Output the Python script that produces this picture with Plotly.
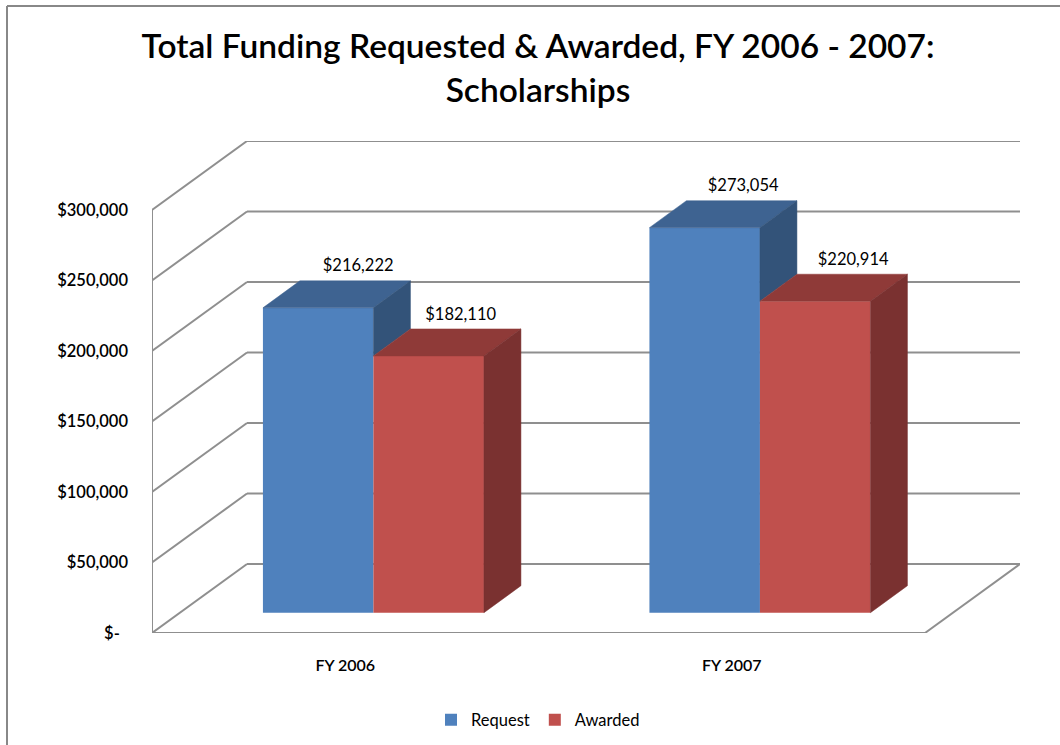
import plotly.graph_objects as go

# ---- data ----
categories = ["FY 2006", "FY 2007"]
request = [216222, 273054]
awarded = [182110, 220914]
y_ticks = [0, 50000, 100000, 150000, 200000, 250000, 300000]
y_labels = ["$-\u00a0\u00a0", "$50,000", "$100,000", "$150,000", "$200,000", "$250,000", "$300,000"]
series_names = ["Request", "Awarded"]

# ---- projection (axis units) ----
PX_X = 386.5          # pixels per category
PX_Y = 70.5 / 50000   # pixels per dollar
L, T, R, B = 152, 141, 1020, 633
W, H = 1060, 745
x_max = (R - L) / PX_X
y_max = (B - T) / PX_Y
WALL_DX, WALL_DY = 95 / PX_X, 69 / PX_Y
BAR_DX, BAR_DY = 37 / PX_X, 27 / PX_Y
BASE = 20.3 / PX_Y
BAR_W = 110.5 / PX_X
GROUP = [0.287 + BAR_W, 1.287 + BAR_W]   # x of the boundary between the two bars

GRID = "#8f8f8f"
BLUE, BLUE_TOP, BLUE_SIDE = "#4F81BD", "#3E6391", "#335379"
RED, RED_TOP, RED_SIDE = "#C0504D", "#8F3A38", "#7A3130"
FONT = "Lato, Carlito, Calibri, sans-serif"
TXT = "#000000"

fig = go.Figure()

# front faces
blue_x = [g - BAR_W / 2 for g in GROUP]
red_x = [g + BAR_W / 2 for g in GROUP]
fig.add_bar(x=blue_x, y=request, base=BASE, width=BAR_W, name=series_names[0],
            marker=dict(color=BLUE, line_width=0), hoverinfo="skip")
fig.add_bar(x=red_x, y=awarded, base=BASE, width=BAR_W, name=series_names[1],
            marker=dict(color=RED, line_width=0), hoverinfo="skip")


def poly(xs, ys, color):
    fig.add_scatter(x=xs, y=ys, mode="lines", fill="toself", fillcolor=color,
                    line=dict(color=color, width=0.5), showlegend=False, hoverinfo="skip")


for i in range(len(categories)):
    b_l, b_r = blue_x[i] - BAR_W / 2, blue_x[i] + BAR_W / 2
    r_l, r_r = red_x[i] - BAR_W / 2, red_x[i] + BAR_W / 2
    b_t = BASE + request[i]
    r_t = BASE + awarded[i]
    # blue top, visible blue side (above red top)
    poly([b_l, b_r, b_r + BAR_DX, b_l + BAR_DX, b_l], [b_t, b_t, b_t + BAR_DY, b_t + BAR_DY, b_t], BLUE_TOP)
    poly([b_r, b_r + BAR_DX, b_r + BAR_DX, b_r, b_r], [b_t, b_t + BAR_DY, r_t + BAR_DY, r_t, b_t], BLUE_SIDE)
    # red top and side
    poly([r_l, r_r, r_r + BAR_DX, r_l + BAR_DX, r_l], [r_t, r_t, r_t + BAR_DY, r_t + BAR_DY, r_t], RED_TOP)
    poly([r_r, r_r + BAR_DX, r_r + BAR_DX, r_r, r_r], [r_t, r_t + BAR_DY, BASE + BAR_DY, BASE, r_t], RED_SIDE)

# data labels
label_dx = [40 / PX_X, 38.5 / PX_X, 32 / PX_X, 38 / PX_X]
label_dy = 40.5 / PX_Y
fig.add_scatter(
    x=[x + d for x, d in zip(blue_x + red_x, label_dx)],
    y=[BASE + v + label_dy for v in request + awarded],
    text=[f"${v:,}" for v in request + awarded],
    mode="text", textposition="middle center",
    textfont=dict(family=FONT, size=16.5, color=TXT),
    showlegend=False, hoverinfo="skip",
)

# walls and floor, behind the bars
shapes = []


def seg(x0, y0, x1, y1):
    shapes.append(dict(type="line", xref="x", yref="y", x0=x0, y0=y0, x1=x1, y1=y1,
                       layer="below", line=dict(color=GRID, width=2)))


for t in y_ticks:
    seg(0, t, WALL_DX, t + WALL_DY)
    seg(WALL_DX, t + WALL_DY, x_max, t + WALL_DY)
seg(0, 0, 0, y_ticks[-1])
seg(0, 0, x_max - WALL_DX, 0)
seg(x_max - WALL_DX, 0, x_max, WALL_DY)

# outer chart-area frame (left and top edges only)
frame = dict(type="line", xref="paper", yref="paper", layer="below", line=dict(color="#888888", width=2))
px = lambda v: (v - L) / (R - L)
py = lambda v: (B - v) / (B - T)
shapes.append({**frame, "x0": px(7), "x1": px(7), "y0": py(6), "y1": py(745)})
shapes.append({**frame, "x0": px(7), "x1": px(1060), "y0": py(6), "y1": py(6)})

fig.update_layout(
    width=W, height=H,
    margin=dict(l=L, r=W - R, t=T, b=H - B, pad=0, autoexpand=False),
    paper_bgcolor="white", plot_bgcolor="white",
    barmode="overlay",
    shapes=shapes,
    title=dict(text="Total Funding Requested & Awarded, FY 2006 - 2007:<br>Scholarships",
               x=538 / W, xanchor="center", y=1 - 58 / H, yanchor="middle",
               font=dict(family=FONT, size=33.5, color=TXT, weight=600)),
    legend=dict(orientation="h", x=px(538), xanchor="center", y=py(720), yanchor="middle",
                font=dict(family=FONT, size=16.5, color=TXT), traceorder="normal",
                bgcolor="rgba(0,0,0,0)"),
    xaxis=dict(range=[0, x_max], tickmode="array", tickvals=[0.5, 1.5], ticktext=categories,
               showgrid=False, zeroline=False, showline=False, ticks="",
               ticklabelstandoff=21, tickfont=dict(family=FONT, size=16, color=TXT, weight=600)),
    yaxis=dict(range=[0, y_max], tickmode="array", tickvals=y_ticks, ticktext=y_labels,
               showgrid=False, zeroline=False, showline=False, ticks="",
               ticklabelstandoff=23, tickfont=dict(family=FONT, size=16.5, color=TXT, weight=600)),
)

fig.write_html("out.html", config={"displayModeBar": False},
               post_script="document.body.style.margin='0';")
